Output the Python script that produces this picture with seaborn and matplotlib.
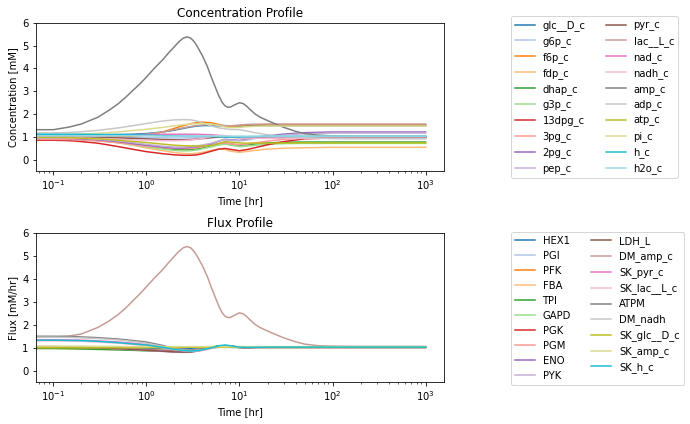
import numpy as np
import pandas as pd
import matplotlib
matplotlib.use("Agg")
import matplotlib.pyplot as plt
import seaborn as sns

# time points [hr]
time = [0.065, 0.1, 0.15, 0.2, 0.3, 0.5, 0.7, 1, 1.5, 2, 2.5, 3, 3.5, 4,
        5, 6, 7, 8, 10, 12, 15, 20, 30, 50, 100, 200, 1000]
# finer sampling used for the two large AMP transients
peak_time = [0.065, 0.1, 0.15, 0.2, 0.3, 0.4, 0.5, 0.6, 0.7, 0.85, 1, 1.2, 1.5, 1.75, 2,
             2.25, 2.5, 2.75, 3, 3.25, 3.5, 4, 4.5, 5, 5.5, 6, 6.5, 7, 7.5, 8, 9, 10,
             11, 12, 13, 15, 17, 20, 25, 30, 40, 50, 70, 100, 200, 1000]

# concentration profiles [mM]
metabolites = ["glc__D_c", "g6p_c", "f6p_c", "fdp_c", "dhap_c", "g3p_c",
               "13dpg_c", "3pg_c", "2pg_c", "pep_c", "pyr_c", "lac__L_c",
               "nad_c", "nadh_c", "amp_c", "adp_c", "atp_c", "pi_c", "h_c", "h2o_c"]

glc__D_c = [1.10, 1.10, 1.10, 1.10, 1.10, 1.11, 1.12, 1.15, 1.22, 1.30, 1.38, 1.44, 1.48, 1.50,
            1.50, 1.49, 1.47, 1.46, 1.48, 1.50, 1.50, 1.50, 1.50, 1.50, 1.50, 1.50, 1.50]
g6p_c = [1.02, 1.02, 1.02, 1.02, 1.01, 1.00, 0.99, 0.98, 0.97, 0.96, 0.96, 0.97, 0.98, 0.99,
         1.02, 1.04, 1.03, 1.01, 0.99, 1.00, 1.01, 1.02, 1.02, 1.02, 1.02, 1.02, 1.02]
f6p_c = [1.00, 1.00, 1.00, 1.00, 1.01, 1.02, 1.04, 1.08, 1.22, 1.38, 1.50, 1.58, 1.63, 1.65,
         1.62, 1.55, 1.48, 1.46, 1.50, 1.53, 1.54, 1.53, 1.53, 1.53, 1.53, 1.53, 1.53]
fdp_c = [0.95, 0.95, 0.93, 0.90, 0.85, 0.75, 0.65, 0.52, 0.40, 0.32, 0.28, 0.27, 0.29, 0.33,
         0.42, 0.48, 0.45, 0.38, 0.33, 0.37, 0.42, 0.47, 0.51, 0.53, 0.55, 0.55, 0.55]
dhap_c = [0.95, 0.95, 0.93, 0.91, 0.87, 0.79, 0.71, 0.62, 0.52, 0.46, 0.44, 0.45, 0.48, 0.53,
          0.62, 0.70, 0.74, 0.70, 0.64, 0.66, 0.70, 0.74, 0.77, 0.78, 0.78, 0.78, 0.78]
g3p_c = [0.93, 0.93, 0.91, 0.88, 0.84, 0.75, 0.66, 0.57, 0.47, 0.41, 0.39, 0.40, 0.43, 0.48,
         0.57, 0.65, 0.69, 0.64, 0.58, 0.60, 0.64, 0.68, 0.71, 0.72, 0.72, 0.72, 0.72]
dpg13_c = [0.86, 0.86, 0.84, 0.80, 0.73, 0.58, 0.47, 0.36, 0.27, 0.22, 0.20, 0.20, 0.22, 0.27,
           0.38, 0.47, 0.50, 0.46, 0.40, 0.45, 0.54, 0.66, 0.80, 0.92, 0.96, 0.96, 0.96]
pg3_c = [0.90, 0.90, 0.89, 0.87, 0.83, 0.75, 0.68, 0.60, 0.54, 0.50, 0.49, 0.50, 0.53, 0.57,
         0.65, 0.72, 0.74, 0.70, 0.66, 0.69, 0.75, 0.82, 0.90, 0.95, 0.97, 0.97, 0.97]
pg2_c = [0.95, 0.95, 0.94, 0.92, 0.88, 0.80, 0.72, 0.64, 0.56, 0.52, 0.52, 0.55, 0.58, 0.62,
         0.70, 0.82, 0.90, 0.88, 0.85, 0.90, 0.98, 1.05, 1.13, 1.19, 1.22, 1.22, 1.22]
pep_c = [0.97, 0.97, 0.96, 0.94, 0.90, 0.83, 0.76, 0.68, 0.60, 0.56, 0.56, 0.58, 0.61, 0.65,
         0.73, 0.83, 0.88, 0.86, 0.83, 0.87, 0.94, 1.01, 1.09, 1.14, 1.17, 1.17, 1.17]
pyr_c = [1.00, 1.00, 1.00, 0.99, 0.98, 0.96, 0.94, 0.92, 0.89, 0.88, 0.88, 0.89, 0.91, 0.93,
         0.97, 1.00, 1.01, 0.99, 0.97, 0.98, 1.00, 1.01, 1.01, 1.01, 1.01, 1.01, 1.01]
lac__L_c = [1.00, 1.00, 1.00, 1.01, 1.02, 1.05, 1.08, 1.12, 1.22, 1.32, 1.40, 1.46, 1.50, 1.53,
            1.55, 1.53, 1.50, 1.49, 1.52, 1.55, 1.56, 1.57, 1.57, 1.57, 1.57, 1.57, 1.57]
nad_c = [1.06, 1.06, 1.07, 1.07, 1.08, 1.09, 1.10, 1.11, 1.12, 1.12, 1.12, 1.12, 1.12, 1.11,
         1.10, 1.07, 1.03, 1.00, 0.99, 1.00, 1.01, 1.02, 1.02, 1.02, 1.02, 1.02, 1.02]
nadh_c = [0.97, 0.97, 0.96, 0.95, 0.93, 0.90, 0.88, 0.86, 0.84, 0.84, 0.85, 0.87, 0.90, 0.94,
          1.02, 1.07, 1.06, 1.02, 0.98, 0.96, 0.95, 0.94, 0.94, 0.94, 0.94, 0.94, 0.94]
# amp_c on peak_time
amp_c = [1.32, 1.32, 1.44, 1.57, 1.86, 2.18, 2.46, 2.74, 3.00, 3.32, 3.62, 3.98, 4.38, 4.70, 4.95,
         5.18, 5.33, 5.38, 5.32, 5.18, 4.98, 4.55, 4.10, 3.60, 3.18, 2.80, 2.52, 2.36, 2.30, 2.31,
         2.42, 2.50, 2.46, 2.34, 2.20, 1.98, 1.85, 1.72, 1.55, 1.42, 1.25, 1.15, 1.08, 1.05, 1.03, 1.03]
adp_c = [1.18, 1.18, 1.20, 1.23, 1.29, 1.40, 1.49, 1.59, 1.70, 1.75, 1.76, 1.75, 1.70, 1.62,
         1.48, 1.40, 1.36, 1.33, 1.32, 1.26, 1.18, 1.10, 1.03, 0.97, 0.93, 0.92, 0.92]
atp_c = [0.98, 0.98, 0.97, 0.95, 0.92, 0.86, 0.81, 0.76, 0.69, 0.64, 0.62, 0.61, 0.61, 0.61,
         0.63, 0.72, 0.80, 0.78, 0.74, 0.73, 0.73, 0.73, 0.74, 0.74, 0.74, 0.74, 0.74]
pi_c = [1.10, 1.10, 1.11, 1.13, 1.16, 1.22, 1.28, 1.34, 1.42, 1.49, 1.54, 1.57, 1.58, 1.58,
        1.56, 1.50, 1.44, 1.41, 1.42, 1.45, 1.47, 1.48, 1.48, 1.48, 1.48, 1.48, 1.48]
h_c = [1.12, 1.12, 1.12, 1.12, 1.11, 1.10, 1.09, 1.08, 1.06, 1.05, 1.04, 1.04, 1.03, 1.03,
       1.02, 1.01, 1.00, 1.00, 1.00, 1.01, 1.02, 1.03, 1.03, 1.03, 1.03, 1.03, 1.03]
h2o_c = [1.05, 1.05, 1.05, 1.05, 1.05, 1.05, 1.05, 1.05, 1.04, 1.04, 1.04, 1.04, 1.04, 1.04,
         1.04, 1.04, 1.04, 1.04, 1.04, 1.04, 1.04, 1.04, 1.04, 1.04, 1.04, 1.04, 1.04]

conc_values = [glc__D_c, g6p_c, f6p_c, fdp_c, dhap_c, g3p_c, dpg13_c, pg3_c, pg2_c, pep_c,
               pyr_c, lac__L_c, nad_c, nadh_c, amp_c, adp_c, atp_c, pi_c, h_c, h2o_c]

# flux profiles [mM/hr]
reactions = ["HEX1", "PGI", "PFK", "FBA", "TPI", "GAPD", "PGK", "PGM", "ENO", "PYK",
             "LDH_L", "DM_amp_c", "SK_pyr_c", "SK_lac__L_c", "ATPM", "DM_nadh",
             "SK_glc__D_c", "SK_amp_c", "SK_h_c"]

HEX1 = [1.00, 1.00, 1.00, 1.00, 0.99, 0.98, 0.97, 0.96, 0.95, 0.95, 0.95, 0.96, 0.97, 0.98,
        1.00, 1.02, 1.03, 1.02, 1.01, 1.01, 1.02, 1.02, 1.02, 1.02, 1.02, 1.02, 1.02]
PGI = [1.00, 1.00, 1.00, 0.99, 0.98, 0.96, 0.94, 0.92, 0.90, 0.89, 0.89, 0.91, 0.94, 0.97,
       1.02, 1.06, 1.07, 1.05, 1.02, 1.01, 1.02, 1.02, 1.02, 1.02, 1.02, 1.02, 1.02]
PFK = [0.98, 0.98, 0.98, 0.97, 0.96, 0.94, 0.92, 0.90, 0.88, 0.87, 0.87, 0.89, 0.92, 0.96,
       1.02, 1.07, 1.08, 1.06, 1.02, 1.01, 1.02, 1.02, 1.02, 1.02, 1.02, 1.02, 1.02]
FBA = [0.97, 0.97, 0.96, 0.95, 0.94, 0.92, 0.90, 0.88, 0.86, 0.85, 0.85, 0.87, 0.90, 0.94,
       1.01, 1.07, 1.08, 1.06, 1.02, 1.01, 1.02, 1.02, 1.02, 1.02, 1.02, 1.02, 1.02]
TPI = [0.97, 0.97, 0.96, 0.95, 0.93, 0.91, 0.89, 0.87, 0.85, 0.84, 0.84, 0.86, 0.89, 0.93,
       1.00, 1.06, 1.08, 1.06, 1.02, 1.01, 1.02, 1.02, 1.02, 1.02, 1.02, 1.02, 1.02]
GAPD = [1.05, 1.05, 1.04, 1.03, 1.01, 0.98, 0.95, 0.91, 0.87, 0.84, 0.83, 0.84, 0.87, 0.92,
        1.00, 1.07, 1.09, 1.06, 1.02, 1.01, 1.02, 1.02, 1.02, 1.02, 1.02, 1.02, 1.02]
PGK = [1.05, 1.05, 1.04, 1.03, 1.01, 0.98, 0.95, 0.91, 0.87, 0.84, 0.83, 0.84, 0.87, 0.92,
       1.00, 1.07, 1.09, 1.06, 1.02, 1.01, 1.02, 1.02, 1.02, 1.02, 1.02, 1.02, 1.02]
PGM = [1.04, 1.04, 1.03, 1.02, 1.00, 0.97, 0.94, 0.90, 0.86, 0.83, 0.82, 0.83, 0.86, 0.91,
       1.00, 1.07, 1.09, 1.06, 1.02, 1.01, 1.02, 1.02, 1.02, 1.02, 1.02, 1.02, 1.02]
ENO = [1.04, 1.04, 1.03, 1.02, 1.00, 0.97, 0.94, 0.90, 0.86, 0.83, 0.82, 0.83, 0.86, 0.91,
       1.00, 1.07, 1.09, 1.06, 1.02, 1.01, 1.02, 1.02, 1.02, 1.02, 1.02, 1.02, 1.02]
PYK = [1.03, 1.03, 1.02, 1.01, 0.99, 0.95, 0.92, 0.88, 0.84, 0.81, 0.80, 0.81, 0.85, 0.90,
       1.00, 1.07, 1.09, 1.06, 1.02, 1.01, 1.02, 1.02, 1.02, 1.02, 1.02, 1.02, 1.02]
LDH_L = [1.02, 1.02, 1.02, 1.01, 0.99, 0.96, 0.93, 0.89, 0.85, 0.82, 0.81, 0.82, 0.86, 0.91,
         1.00, 1.07, 1.09, 1.06, 1.02, 1.01, 1.02, 1.02, 1.02, 1.02, 1.02, 1.02, 1.02]
# DM_amp_c on peak_time
DM_amp_c = [1.47, 1.47, 1.51, 1.60, 1.88, 2.17, 2.45, 2.73, 3.00, 3.34, 3.65, 4.00, 4.40, 4.72, 4.98,
            5.20, 5.35, 5.40, 5.34, 5.19, 4.99, 4.56, 4.11, 3.61, 3.19, 2.81, 2.53, 2.37, 2.31, 2.32,
            2.43, 2.52, 2.47, 2.35, 2.21, 1.99, 1.86, 1.73, 1.56, 1.43, 1.26, 1.16, 1.09, 1.07, 1.06, 1.06]
SK_pyr_c = [1.35, 1.35, 1.34, 1.33, 1.30, 1.25, 1.20, 1.14, 1.05, 0.97, 0.92, 0.89, 0.88, 0.90,
            0.98, 1.06, 1.09, 1.07, 1.03, 1.02, 1.02, 1.02, 1.02, 1.02, 1.02, 1.02, 1.02]
SK_lac__L_c = [1.30, 1.30, 1.29, 1.28, 1.25, 1.20, 1.15, 1.09, 1.00, 0.92, 0.87, 0.85, 0.85, 0.88,
               0.97, 1.05, 1.08, 1.06, 1.03, 1.02, 1.02, 1.02, 1.02, 1.02, 1.02, 1.02, 1.02]
ATPM = [1.50, 1.50, 1.49, 1.47, 1.44, 1.38, 1.32, 1.25, 1.10, 0.97, 0.92, 0.91, 0.93, 0.96,
        1.03, 1.08, 1.09, 1.07, 1.03, 1.02, 1.02, 1.02, 1.02, 1.02, 1.02, 1.02, 1.02]
DM_nadh = [1.46, 1.46, 1.45, 1.43, 1.40, 1.34, 1.28, 1.20, 1.06, 0.95, 0.90, 0.88, 0.89, 0.92,
           0.99, 1.05, 1.07, 1.05, 1.02, 1.02, 1.02, 1.02, 1.02, 1.02, 1.02, 1.02, 1.02]
SK_glc__D_c = [1.00, 1.00, 1.00, 1.00, 1.00, 1.00, 1.00, 1.00, 1.01, 1.01, 1.02, 1.02, 1.02, 1.02,
               1.02, 1.02, 1.02, 1.02, 1.02, 1.02, 1.02, 1.02, 1.02, 1.02, 1.02, 1.02, 1.02]
SK_amp_c = [1.07, 1.07, 1.07, 1.07, 1.06, 1.06, 1.05, 1.05, 1.05, 1.05, 1.05, 1.05, 1.05, 1.05,
            1.05, 1.05, 1.05, 1.05, 1.05, 1.05, 1.05, 1.05, 1.05, 1.05, 1.05, 1.05, 1.05]
SK_h_c = [1.33, 1.33, 1.32, 1.31, 1.28, 1.22, 1.17, 1.12, 1.02, 0.93, 0.88, 0.86, 0.87, 0.91,
          1.00, 1.09, 1.12, 1.09, 1.03, 1.02, 1.02, 1.03, 1.03, 1.03, 1.03, 1.03, 1.03]

flux_values = [HEX1, PGI, PFK, FBA, TPI, GAPD, PGK, PGM, ENO, PYK, LDH_L, DM_amp_c,
               SK_pyr_c, SK_lac__L_c, ATPM, DM_nadh, SK_glc__D_c, SK_amp_c, SK_h_c]


def long_table(names, values):
    rows = []
    for name, vals in zip(names, values):
        ts = peak_time if len(vals) == len(peak_time) else time
        for t, v in zip(ts, vals):
            rows.append({"time": t, "value": v, "id": name})
    return pd.DataFrame(rows)


conc_df = long_table(metabolites, conc_values)
flux_df = long_table(reactions, flux_values)

tab20 = sns.color_palette("tab20", 20)

W, H = 690, 424
fig = plt.figure(figsize=(W / 72, H / 72), dpi=72)
ax1 = fig.add_axes([35.7 / W, 1 - 171.3 / H, 408.3 / W, 148.6 / H])
ax2 = fig.add_axes([35.7 / W, 1 - 382.3 / H, 408.3 / W, 149.6 / H])


def draw(ax, df, names, title, ylabel, anchor):
    sns.lineplot(data=df, x="time", y="value", hue="id", hue_order=names,
                 palette=tab20[:len(names)], estimator=None, ax=ax, linewidth=1.5)
    ax.set_xscale("log")
    ax.set_xlim(0.0647, 1574)
    ax.set_ylim(-0.5, 6)
    ax.set_title(title, fontsize=12)
    ax.set_xlabel("Time [hr]")
    ax.set_ylabel(ylabel)
    handles, labels = ax.get_legend_handles_labels()
    ax.legend(handles, labels, ncol=2, loc="upper left", bbox_to_anchor=anchor,
              borderaxespad=0, fontsize=10)


draw(ax1, conc_df, metabolites, "Concentration Profile", "Concentration [mM]", (1.163, 1.045))
draw(ax2, flux_df, reactions, "Flux Profile", "Flux [mM/hr]", (1.163, 1.007))

fig.savefig("out.png", dpi=72)
